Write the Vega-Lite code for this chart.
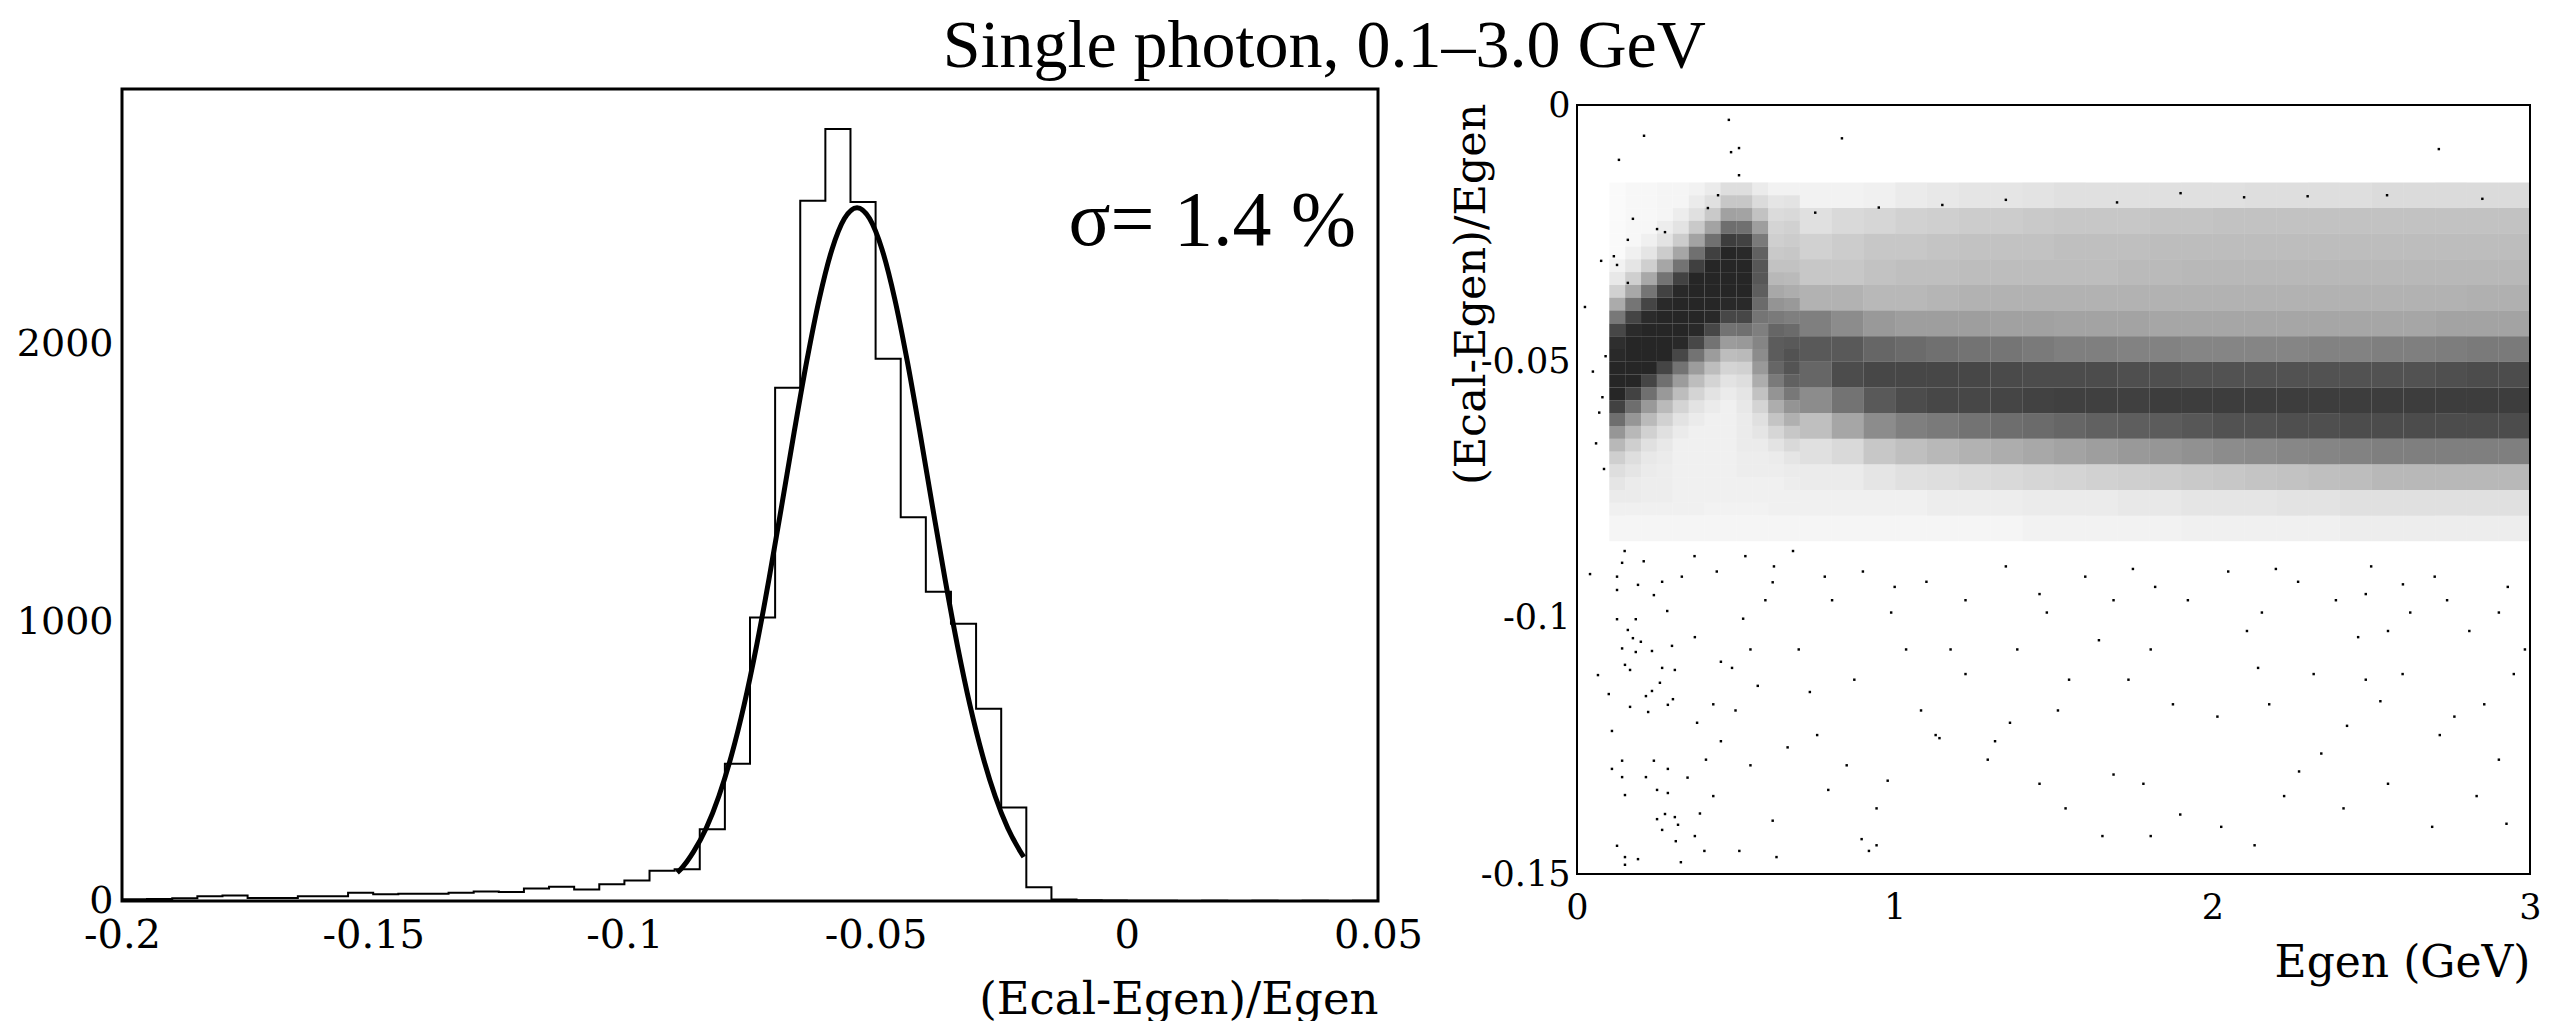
{
"$schema": "https://vega.github.io/schema/vega-lite/v6.json",
"padding": {"left": 14, "top": 13, "right": 5, "bottom": 2},
"background": "white",
"config": {"font": "DejaVu Serif", "axis": {"labelColor": "black", "titleColor": "black", "tickColor": "black", "domain": false, "grid": false, "labelFlush": false, "labelOverlap": false, "labelBound": false, "titleFontWeight": "normal", "tickSize": 0}},
"title": {"text": "Single photon, 0.1–3.0 GeV", "font": "Liberation Serif", "fontSize": 68, "fontWeight": "normal", "color": "black", "anchor": "start", "frame": "bounds", "dx": 928, "baseline": "alphabetic", "offset": -48},
"datasets": {
"hist": [{"x":-0.2,"n":6},{"x":-0.195,"n":7},{"x":-0.19,"n":10},{"x":-0.185,"n":17},{"x":-0.18,"n":20},{"x":-0.175,"n":11},{"x":-0.17,"n":11},{"x":-0.165,"n":17},{"x":-0.16,"n":17},{"x":-0.155,"n":30},{"x":-0.15,"n":24},{"x":-0.145,"n":26},{"x":-0.14,"n":26},{"x":-0.135,"n":30},{"x":-0.13,"n":34},{"x":-0.125,"n":32},{"x":-0.12,"n":45},{"x":-0.115,"n":51},{"x":-0.11,"n":41},{"x":-0.105,"n":60},{"x":-0.1,"n":74},{"x":-0.095,"n":109},{"x":-0.09,"n":114},{"x":-0.085,"n":258},{"x":-0.08,"n":493},{"x":-0.075,"n":1018},{"x":-0.07,"n":1843},{"x":-0.065,"n":2515},{"x":-0.06,"n":2772},{"x":-0.055,"n":2510},{"x":-0.05,"n":1947},{"x":-0.045,"n":1378},{"x":-0.04,"n":1111},{"x":-0.035,"n":996},{"x":-0.03,"n":690},{"x":-0.025,"n":336},{"x":-0.02,"n":49},{"x":-0.015,"n":5},{"x":-0.01,"n":3},{"x":-0.005,"n":2},{"x":0,"n":1},{"x":0.005,"n":1},{"x":0.01,"n":0},{"x":0.015,"n":1},{"x":0.02,"n":0},{"x":0.025,"n":1},{"x":0.03,"n":0},{"x":0.035,"n":1},{"x":0.04,"n":0},{"x":0.045,"n":1},{"x":0.05,"n":1}],
"fit": [{"x":-0.0895,"f":102},{"x":-0.0887,"f":116},{"x":-0.0862,"f":178},{"x":-0.0837,"f":262},{"x":-0.0812,"f":376},{"x":-0.0787,"f":522},{"x":-0.0762,"f":702},{"x":-0.0737,"f":916},{"x":-0.0712,"f":1158},{"x":-0.0687,"f":1419},{"x":-0.0662,"f":1685},{"x":-0.0637,"f":1939},{"x":-0.0612,"f":2163},{"x":-0.0587,"f":2339},{"x":-0.0562,"f":2451},{"x":-0.0537,"f":2490},{"x":-0.0512,"f":2451},{"x":-0.0487,"f":2339},{"x":-0.0462,"f":2163},{"x":-0.0437,"f":1939},{"x":-0.0412,"f":1685},{"x":-0.0387,"f":1419},{"x":-0.0362,"f":1158},{"x":-0.0337,"f":916},{"x":-0.0312,"f":702},{"x":-0.0287,"f":522},{"x":-0.0262,"f":376},{"x":-0.0237,"f":262},{"x":-0.0212,"f":178},{"x":-0.0205,"f":158}],
"fine": [
{"e":0.1,"r":-0.0175,"d":2},{"e":0.1,"r":-0.02,"d":2},{"e":0.1,"r":-0.0225,"d":2},{"e":0.1,"r":-0.025,"d":2},{"e":0.1,"r":-0.0275,"d":2},{"e":0.1,"r":-0.03,"d":2},{"e":0.1,"r":-0.0325,"d":5},{"e":0.1,"r":-0.035,"d":9},{"e":0.1,"r":-0.0375,"d":18},{"e":0.1,"r":-0.04,"d":33},{"e":0.1,"r":-0.0425,"d":53},{"e":0.1,"r":-0.045,"d":72},{"e":0.1,"r":-0.0475,"d":82},{"e":0.1,"r":-0.05,"d":84},{"e":0.1,"r":-0.0525,"d":85},{"e":0.1,"r":-0.055,"d":85},{"e":0.1,"r":-0.0575,"d":85},{"e":0.1,"r":-0.06,"d":74},{"e":0.1,"r":-0.0625,"d":57},{"e":0.1,"r":-0.065,"d":41},{"e":0.1,"r":-0.0675,"d":28},{"e":0.1,"r":-0.07,"d":19},{"e":0.1,"r":-0.0725,"d":13},{"e":0.1,"r":-0.075,"d":10},{"e":0.1,"r":-0.0775,"d":8},{"e":0.1,"r":-0.08,"d":6},
{"e":0.15,"r":-0.0175,"d":3},{"e":0.15,"r":-0.02,"d":3},{"e":0.15,"r":-0.0225,"d":3},{"e":0.15,"r":-0.025,"d":3},{"e":0.15,"r":-0.0275,"d":3},{"e":0.15,"r":-0.03,"d":6},{"e":0.15,"r":-0.0325,"d":10},{"e":0.15,"r":-0.035,"d":19},{"e":0.15,"r":-0.0375,"d":34},{"e":0.15,"r":-0.04,"d":54},{"e":0.15,"r":-0.0425,"d":73},{"e":0.15,"r":-0.045,"d":83},{"e":0.15,"r":-0.0475,"d":85},{"e":0.15,"r":-0.05,"d":85},{"e":0.15,"r":-0.0525,"d":85},{"e":0.15,"r":-0.055,"d":85},{"e":0.15,"r":-0.0575,"d":74},{"e":0.15,"r":-0.06,"d":57},{"e":0.15,"r":-0.0625,"d":41},{"e":0.15,"r":-0.065,"d":28},{"e":0.15,"r":-0.0675,"d":19},{"e":0.15,"r":-0.07,"d":13},{"e":0.15,"r":-0.0725,"d":10},{"e":0.15,"r":-0.075,"d":8},{"e":0.15,"r":-0.0775,"d":8},{"e":0.15,"r":-0.08,"d":6},
{"e":0.2,"r":-0.0175,"d":3},{"e":0.2,"r":-0.02,"d":3},{"e":0.2,"r":-0.0225,"d":3},{"e":0.2,"r":-0.025,"d":3},{"e":0.2,"r":-0.0275,"d":6},{"e":0.2,"r":-0.03,"d":10},{"e":0.2,"r":-0.0325,"d":19},{"e":0.2,"r":-0.035,"d":34},{"e":0.2,"r":-0.0375,"d":54},{"e":0.2,"r":-0.04,"d":73},{"e":0.2,"r":-0.0425,"d":83},{"e":0.2,"r":-0.045,"d":85},{"e":0.2,"r":-0.0475,"d":85},{"e":0.2,"r":-0.05,"d":85},{"e":0.2,"r":-0.0525,"d":85},{"e":0.2,"r":-0.055,"d":73},{"e":0.2,"r":-0.0575,"d":56},{"e":0.2,"r":-0.06,"d":40},{"e":0.2,"r":-0.0625,"d":27},{"e":0.2,"r":-0.065,"d":18},{"e":0.2,"r":-0.0675,"d":12},{"e":0.2,"r":-0.07,"d":9},{"e":0.2,"r":-0.0725,"d":8},{"e":0.2,"r":-0.075,"d":7},{"e":0.2,"r":-0.0775,"d":7},{"e":0.2,"r":-0.08,"d":6},
{"e":0.25,"r":-0.0175,"d":4},{"e":0.25,"r":-0.02,"d":4},{"e":0.25,"r":-0.0225,"d":4},{"e":0.25,"r":-0.025,"d":7},{"e":0.25,"r":-0.0275,"d":11},{"e":0.25,"r":-0.03,"d":20},{"e":0.25,"r":-0.0325,"d":35},{"e":0.25,"r":-0.035,"d":55},{"e":0.25,"r":-0.0375,"d":74},{"e":0.25,"r":-0.04,"d":84},{"e":0.25,"r":-0.0425,"d":85},{"e":0.25,"r":-0.045,"d":85},{"e":0.25,"r":-0.0475,"d":85},{"e":0.25,"r":-0.05,"d":85},{"e":0.25,"r":-0.0525,"d":73},{"e":0.25,"r":-0.055,"d":56},{"e":0.25,"r":-0.0575,"d":40},{"e":0.25,"r":-0.06,"d":27},{"e":0.25,"r":-0.0625,"d":18},{"e":0.25,"r":-0.065,"d":12},{"e":0.25,"r":-0.0675,"d":9},{"e":0.25,"r":-0.07,"d":8},{"e":0.25,"r":-0.0725,"d":7},{"e":0.25,"r":-0.075,"d":7},{"e":0.25,"r":-0.0775,"d":7},{"e":0.25,"r":-0.08,"d":6},
{"e":0.3,"r":-0.0175,"d":4},{"e":0.3,"r":-0.02,"d":4},{"e":0.3,"r":-0.0225,"d":7},{"e":0.3,"r":-0.025,"d":11},{"e":0.3,"r":-0.0275,"d":20},{"e":0.3,"r":-0.03,"d":35},{"e":0.3,"r":-0.0325,"d":55},{"e":0.3,"r":-0.035,"d":74},{"e":0.3,"r":-0.0375,"d":84},{"e":0.3,"r":-0.04,"d":85},{"e":0.3,"r":-0.0425,"d":85},{"e":0.3,"r":-0.045,"d":85},{"e":0.3,"r":-0.0475,"d":84},{"e":0.3,"r":-0.05,"d":72},{"e":0.3,"r":-0.0525,"d":55},{"e":0.3,"r":-0.055,"d":39},{"e":0.3,"r":-0.0575,"d":26},{"e":0.3,"r":-0.06,"d":17},{"e":0.3,"r":-0.0625,"d":11},{"e":0.3,"r":-0.065,"d":8},{"e":0.3,"r":-0.0675,"d":6},{"e":0.3,"r":-0.07,"d":6},{"e":0.3,"r":-0.0725,"d":6},{"e":0.3,"r":-0.075,"d":6},{"e":0.3,"r":-0.0775,"d":6},{"e":0.3,"r":-0.08,"d":6},
{"e":0.35,"r":-0.0175,"d":5},{"e":0.35,"r":-0.02,"d":8},{"e":0.35,"r":-0.0225,"d":12},{"e":0.35,"r":-0.025,"d":21},{"e":0.35,"r":-0.0275,"d":36},{"e":0.35,"r":-0.03,"d":56},{"e":0.35,"r":-0.0325,"d":75},{"e":0.35,"r":-0.035,"d":85},{"e":0.35,"r":-0.0375,"d":85},{"e":0.35,"r":-0.04,"d":85},{"e":0.35,"r":-0.0425,"d":85},{"e":0.35,"r":-0.045,"d":84},{"e":0.35,"r":-0.0475,"d":72},{"e":0.35,"r":-0.05,"d":55},{"e":0.35,"r":-0.0525,"d":39},{"e":0.35,"r":-0.055,"d":26},{"e":0.35,"r":-0.0575,"d":17},{"e":0.35,"r":-0.06,"d":11},{"e":0.35,"r":-0.0625,"d":8},{"e":0.35,"r":-0.065,"d":6},{"e":0.35,"r":-0.0675,"d":6},{"e":0.35,"r":-0.07,"d":6},{"e":0.35,"r":-0.0725,"d":6},{"e":0.35,"r":-0.075,"d":6},{"e":0.35,"r":-0.0775,"d":6},{"e":0.35,"r":-0.08,"d":6},
{"e":0.4,"r":-0.0175,"d":8},{"e":0.4,"r":-0.02,"d":12},{"e":0.4,"r":-0.0225,"d":21},{"e":0.4,"r":-0.025,"d":36},{"e":0.4,"r":-0.0275,"d":56},{"e":0.4,"r":-0.03,"d":75},{"e":0.4,"r":-0.0325,"d":85},{"e":0.4,"r":-0.035,"d":85},{"e":0.4,"r":-0.0375,"d":85},{"e":0.4,"r":-0.04,"d":85},{"e":0.4,"r":-0.0425,"d":84},{"e":0.4,"r":-0.045,"d":72},{"e":0.4,"r":-0.0475,"d":55},{"e":0.4,"r":-0.05,"d":39},{"e":0.4,"r":-0.0525,"d":26},{"e":0.4,"r":-0.055,"d":17},{"e":0.4,"r":-0.0575,"d":11},{"e":0.4,"r":-0.06,"d":8},{"e":0.4,"r":-0.0625,"d":6},{"e":0.4,"r":-0.065,"d":6},{"e":0.4,"r":-0.0675,"d":6},{"e":0.4,"r":-0.07,"d":6},{"e":0.4,"r":-0.0725,"d":6},{"e":0.4,"r":-0.075,"d":6},{"e":0.4,"r":-0.0775,"d":6},{"e":0.4,"r":-0.08,"d":5},
{"e":0.45,"r":-0.0175,"d":13},{"e":0.45,"r":-0.02,"d":22},{"e":0.45,"r":-0.0225,"d":37},{"e":0.45,"r":-0.025,"d":57},{"e":0.45,"r":-0.0275,"d":76},{"e":0.45,"r":-0.03,"d":85},{"e":0.45,"r":-0.0325,"d":85},{"e":0.45,"r":-0.035,"d":85},{"e":0.45,"r":-0.0375,"d":85},{"e":0.45,"r":-0.04,"d":84},{"e":0.45,"r":-0.0425,"d":72},{"e":0.45,"r":-0.045,"d":55},{"e":0.45,"r":-0.0475,"d":39},{"e":0.45,"r":-0.05,"d":26},{"e":0.45,"r":-0.0525,"d":17},{"e":0.45,"r":-0.055,"d":11},{"e":0.45,"r":-0.0575,"d":8},{"e":0.45,"r":-0.06,"d":6},{"e":0.45,"r":-0.0625,"d":6},{"e":0.45,"r":-0.065,"d":6},{"e":0.45,"r":-0.0675,"d":6},{"e":0.45,"r":-0.07,"d":6},{"e":0.45,"r":-0.0725,"d":6},{"e":0.45,"r":-0.075,"d":6},{"e":0.45,"r":-0.0775,"d":6},{"e":0.45,"r":-0.08,"d":5},
{"e":0.5,"r":-0.0175,"d":13},{"e":0.5,"r":-0.02,"d":22},{"e":0.5,"r":-0.0225,"d":36},{"e":0.5,"r":-0.025,"d":56},{"e":0.5,"r":-0.0275,"d":74},{"e":0.5,"r":-0.03,"d":84},{"e":0.5,"r":-0.0325,"d":85},{"e":0.5,"r":-0.035,"d":85},{"e":0.5,"r":-0.0375,"d":85},{"e":0.5,"r":-0.04,"d":84},{"e":0.5,"r":-0.0425,"d":72},{"e":0.5,"r":-0.045,"d":56},{"e":0.5,"r":-0.0475,"d":40},{"e":0.5,"r":-0.05,"d":27},{"e":0.5,"r":-0.0525,"d":18},{"e":0.5,"r":-0.055,"d":13},{"e":0.5,"r":-0.0575,"d":10},{"e":0.5,"r":-0.06,"d":9},{"e":0.5,"r":-0.0625,"d":8},{"e":0.5,"r":-0.065,"d":8},{"e":0.5,"r":-0.0675,"d":8},{"e":0.5,"r":-0.07,"d":7},{"e":0.5,"r":-0.0725,"d":7},{"e":0.5,"r":-0.075,"d":6},{"e":0.5,"r":-0.0775,"d":6},{"e":0.5,"r":-0.08,"d":5},
{"e":0.55,"r":-0.0175,"d":8},{"e":0.55,"r":-0.02,"d":14},{"e":0.55,"r":-0.0225,"d":24},{"e":0.55,"r":-0.025,"d":38},{"e":0.55,"r":-0.0275,"d":52},{"e":0.55,"r":-0.03,"d":62},{"e":0.55,"r":-0.0325,"d":66},{"e":0.55,"r":-0.035,"d":66},{"e":0.55,"r":-0.0375,"d":63},{"e":0.55,"r":-0.04,"d":58},{"e":0.55,"r":-0.0425,"d":54},{"e":0.55,"r":-0.045,"d":50},{"e":0.55,"r":-0.0475,"d":48},{"e":0.55,"r":-0.05,"d":45},{"e":0.55,"r":-0.0525,"d":40},{"e":0.55,"r":-0.055,"d":32},{"e":0.55,"r":-0.0575,"d":24},{"e":0.55,"r":-0.06,"d":17},{"e":0.55,"r":-0.0625,"d":12},{"e":0.55,"r":-0.065,"d":10},{"e":0.55,"r":-0.0675,"d":8},{"e":0.55,"r":-0.07,"d":7},{"e":0.55,"r":-0.0725,"d":7},{"e":0.55,"r":-0.075,"d":6},{"e":0.55,"r":-0.0775,"d":6},{"e":0.55,"r":-0.08,"d":5},
{"e":0.6,"r":-0.0175,"d":5},{"e":0.6,"r":-0.02,"d":10},{"e":0.6,"r":-0.0225,"d":14},{"e":0.6,"r":-0.025,"d":17},{"e":0.6,"r":-0.0275,"d":19},{"e":0.6,"r":-0.03,"d":21},{"e":0.6,"r":-0.0325,"d":24},{"e":0.6,"r":-0.035,"d":28},{"e":0.6,"r":-0.0375,"d":34},{"e":0.6,"r":-0.04,"d":42},{"e":0.6,"r":-0.0425,"d":52},{"e":0.6,"r":-0.045,"d":60},{"e":0.6,"r":-0.0475,"d":64},{"e":0.6,"r":-0.05,"d":64},{"e":0.6,"r":-0.0525,"d":60},{"e":0.6,"r":-0.055,"d":52},{"e":0.6,"r":-0.0575,"d":42},{"e":0.6,"r":-0.06,"d":32},{"e":0.6,"r":-0.0625,"d":23},{"e":0.6,"r":-0.065,"d":16},{"e":0.6,"r":-0.0675,"d":11},{"e":0.6,"r":-0.07,"d":8},{"e":0.6,"r":-0.0725,"d":7},{"e":0.6,"r":-0.075,"d":6},{"e":0.6,"r":-0.0775,"d":6},{"e":0.6,"r":-0.08,"d":6},
{"e":0.65,"r":-0.0175,"d":5},{"e":0.65,"r":-0.02,"d":11},{"e":0.65,"r":-0.0225,"d":15},{"e":0.65,"r":-0.025,"d":18},{"e":0.65,"r":-0.0275,"d":20},{"e":0.65,"r":-0.03,"d":22},{"e":0.65,"r":-0.0325,"d":24},{"e":0.65,"r":-0.035,"d":27},{"e":0.65,"r":-0.0375,"d":32},{"e":0.65,"r":-0.04,"d":40},{"e":0.65,"r":-0.0425,"d":50},{"e":0.65,"r":-0.045,"d":58},{"e":0.65,"r":-0.0475,"d":65},{"e":0.65,"r":-0.05,"d":68},{"e":0.65,"r":-0.0525,"d":67},{"e":0.65,"r":-0.055,"d":62},{"e":0.65,"r":-0.0575,"d":53},{"e":0.65,"r":-0.06,"d":42},{"e":0.65,"r":-0.0625,"d":31},{"e":0.65,"r":-0.065,"d":22},{"e":0.65,"r":-0.0675,"d":15},{"e":0.65,"r":-0.07,"d":10},{"e":0.65,"r":-0.0725,"d":8},{"e":0.65,"r":-0.075,"d":7},{"e":0.65,"r":-0.0775,"d":6},{"e":0.65,"r":-0.08,"d":6}
],
"cells": [
{"e":0.1,"r":-0.085,"d":4},{"e":0.2,"r":-0.085,"d":4},{"e":0.3,"r":-0.085,"d":4},{"e":0.4,"r":-0.085,"d":4},{"e":0.5,"r":-0.085,"d":4},{"e":0.6,"r":-0.085,"d":4},
{"e":0.7,"r":-0.02,"d":5},{"e":0.7,"r":-0.025,"d":12},{"e":0.7,"r":-0.03,"d":18},{"e":0.7,"r":-0.035,"d":22},{"e":0.7,"r":-0.04,"d":30},{"e":0.7,"r":-0.045,"d":50},{"e":0.7,"r":-0.05,"d":65},{"e":0.7,"r":-0.055,"d":60},{"e":0.7,"r":-0.06,"d":45},{"e":0.7,"r":-0.065,"d":25},{"e":0.7,"r":-0.07,"d":12},{"e":0.7,"r":-0.075,"d":8},{"e":0.7,"r":-0.08,"d":6},{"e":0.7,"r":-0.085,"d":4},
{"e":0.8,"r":-0.02,"d":5},{"e":0.8,"r":-0.025,"d":15},{"e":0.8,"r":-0.03,"d":20},{"e":0.8,"r":-0.035,"d":22},{"e":0.8,"r":-0.04,"d":30},{"e":0.8,"r":-0.045,"d":45},{"e":0.8,"r":-0.05,"d":65},{"e":0.8,"r":-0.055,"d":70},{"e":0.8,"r":-0.06,"d":55},{"e":0.8,"r":-0.065,"d":35},{"e":0.8,"r":-0.07,"d":15},{"e":0.8,"r":-0.075,"d":8},{"e":0.8,"r":-0.08,"d":6},{"e":0.8,"r":-0.085,"d":4},
{"e":0.9,"r":-0.02,"d":6},{"e":0.9,"r":-0.025,"d":16},{"e":0.9,"r":-0.03,"d":22},{"e":0.9,"r":-0.035,"d":24},{"e":0.9,"r":-0.04,"d":28},{"e":0.9,"r":-0.045,"d":40},{"e":0.9,"r":-0.05,"d":60},{"e":0.9,"r":-0.055,"d":72},{"e":0.9,"r":-0.06,"d":65},{"e":0.9,"r":-0.065,"d":45},{"e":0.9,"r":-0.07,"d":22},{"e":0.9,"r":-0.075,"d":10},{"e":0.9,"r":-0.08,"d":6},{"e":0.9,"r":-0.085,"d":4},
{"e":1.0,"r":-0.02,"d":8},{"e":1.0,"r":-0.025,"d":18},{"e":1.0,"r":-0.03,"d":22},{"e":1.0,"r":-0.035,"d":25},{"e":1.0,"r":-0.04,"d":28},{"e":1.0,"r":-0.045,"d":38},{"e":1.0,"r":-0.05,"d":58},{"e":1.0,"r":-0.055,"d":72},{"e":1.0,"r":-0.06,"d":70},{"e":1.0,"r":-0.065,"d":50},{"e":1.0,"r":-0.07,"d":25},{"e":1.0,"r":-0.075,"d":12},{"e":1.0,"r":-0.08,"d":6},{"e":1.0,"r":-0.085,"d":4},
{"e":1.1,"r":-0.02,"d":9},{"e":1.1,"r":-0.025,"d":19},{"e":1.1,"r":-0.03,"d":23},{"e":1.1,"r":-0.035,"d":25},{"e":1.1,"r":-0.04,"d":29},{"e":1.1,"r":-0.045,"d":38},{"e":1.1,"r":-0.05,"d":56},{"e":1.1,"r":-0.055,"d":72},{"e":1.1,"r":-0.06,"d":72},{"e":1.1,"r":-0.065,"d":52},{"e":1.1,"r":-0.07,"d":28},{"e":1.1,"r":-0.075,"d":13},{"e":1.1,"r":-0.08,"d":7},{"e":1.1,"r":-0.085,"d":4},
{"e":1.2,"r":-0.02,"d":10},{"e":1.2,"r":-0.025,"d":20},{"e":1.2,"r":-0.03,"d":24},{"e":1.2,"r":-0.035,"d":26},{"e":1.2,"r":-0.04,"d":30},{"e":1.2,"r":-0.045,"d":38},{"e":1.2,"r":-0.05,"d":55},{"e":1.2,"r":-0.055,"d":72},{"e":1.2,"r":-0.06,"d":72},{"e":1.2,"r":-0.065,"d":55},{"e":1.2,"r":-0.07,"d":30},{"e":1.2,"r":-0.075,"d":14},{"e":1.2,"r":-0.08,"d":7},{"e":1.2,"r":-0.085,"d":4},
{"e":1.3,"r":-0.02,"d":10},{"e":1.3,"r":-0.025,"d":20},{"e":1.3,"r":-0.03,"d":24},{"e":1.3,"r":-0.035,"d":26},{"e":1.3,"r":-0.04,"d":30},{"e":1.3,"r":-0.045,"d":37},{"e":1.3,"r":-0.05,"d":54},{"e":1.3,"r":-0.055,"d":71},{"e":1.3,"r":-0.06,"d":73},{"e":1.3,"r":-0.065,"d":57},{"e":1.3,"r":-0.07,"d":32},{"e":1.3,"r":-0.075,"d":15},{"e":1.3,"r":-0.08,"d":7},{"e":1.3,"r":-0.085,"d":4},
{"e":1.4,"r":-0.02,"d":11},{"e":1.4,"r":-0.025,"d":21},{"e":1.4,"r":-0.03,"d":24},{"e":1.4,"r":-0.035,"d":26},{"e":1.4,"r":-0.04,"d":30},{"e":1.4,"r":-0.045,"d":37},{"e":1.4,"r":-0.05,"d":52},{"e":1.4,"r":-0.055,"d":70},{"e":1.4,"r":-0.06,"d":74},{"e":1.4,"r":-0.065,"d":58},{"e":1.4,"r":-0.07,"d":34},{"e":1.4,"r":-0.075,"d":16},{"e":1.4,"r":-0.08,"d":8},{"e":1.4,"r":-0.085,"d":5},
{"e":1.5,"r":-0.02,"d":12},{"e":1.5,"r":-0.025,"d":22},{"e":1.5,"r":-0.03,"d":25},{"e":1.5,"r":-0.035,"d":26},{"e":1.5,"r":-0.04,"d":30},{"e":1.5,"r":-0.045,"d":36},{"e":1.5,"r":-0.05,"d":50},{"e":1.5,"r":-0.055,"d":70},{"e":1.5,"r":-0.06,"d":75},{"e":1.5,"r":-0.065,"d":60},{"e":1.5,"r":-0.07,"d":36},{"e":1.5,"r":-0.075,"d":17},{"e":1.5,"r":-0.08,"d":8},{"e":1.5,"r":-0.085,"d":5},
{"e":1.6,"r":-0.02,"d":12},{"e":1.6,"r":-0.025,"d":22},{"e":1.6,"r":-0.03,"d":25},{"e":1.6,"r":-0.035,"d":26},{"e":1.6,"r":-0.04,"d":30},{"e":1.6,"r":-0.045,"d":36},{"e":1.6,"r":-0.05,"d":50},{"e":1.6,"r":-0.055,"d":70},{"e":1.6,"r":-0.06,"d":75},{"e":1.6,"r":-0.065,"d":62},{"e":1.6,"r":-0.07,"d":38},{"e":1.6,"r":-0.075,"d":18},{"e":1.6,"r":-0.08,"d":8},{"e":1.6,"r":-0.085,"d":5},
{"e":1.7,"r":-0.02,"d":12},{"e":1.7,"r":-0.025,"d":22},{"e":1.7,"r":-0.03,"d":25},{"e":1.7,"r":-0.035,"d":27},{"e":1.7,"r":-0.04,"d":30},{"e":1.7,"r":-0.045,"d":36},{"e":1.7,"r":-0.05,"d":49},{"e":1.7,"r":-0.055,"d":69},{"e":1.7,"r":-0.06,"d":75},{"e":1.7,"r":-0.065,"d":63},{"e":1.7,"r":-0.07,"d":40},{"e":1.7,"r":-0.075,"d":19},{"e":1.7,"r":-0.08,"d":9},{"e":1.7,"r":-0.085,"d":5},
{"e":1.8,"r":-0.02,"d":12},{"e":1.8,"r":-0.025,"d":23},{"e":1.8,"r":-0.03,"d":26},{"e":1.8,"r":-0.035,"d":27},{"e":1.8,"r":-0.04,"d":30},{"e":1.8,"r":-0.045,"d":35},{"e":1.8,"r":-0.05,"d":49},{"e":1.8,"r":-0.055,"d":69},{"e":1.8,"r":-0.06,"d":76},{"e":1.8,"r":-0.065,"d":64},{"e":1.8,"r":-0.07,"d":41},{"e":1.8,"r":-0.075,"d":20},{"e":1.8,"r":-0.08,"d":9},{"e":1.8,"r":-0.085,"d":5},
{"e":1.9,"r":-0.02,"d":12},{"e":1.9,"r":-0.025,"d":23},{"e":1.9,"r":-0.03,"d":26},{"e":1.9,"r":-0.035,"d":28},{"e":1.9,"r":-0.04,"d":30},{"e":1.9,"r":-0.045,"d":35},{"e":1.9,"r":-0.05,"d":48},{"e":1.9,"r":-0.055,"d":68},{"e":1.9,"r":-0.06,"d":76},{"e":1.9,"r":-0.065,"d":66},{"e":1.9,"r":-0.07,"d":43},{"e":1.9,"r":-0.075,"d":21},{"e":1.9,"r":-0.08,"d":10},{"e":1.9,"r":-0.085,"d":6},
{"e":2.0,"r":-0.02,"d":12},{"e":2.0,"r":-0.025,"d":24},{"e":2.0,"r":-0.03,"d":26},{"e":2.0,"r":-0.035,"d":28},{"e":2.0,"r":-0.04,"d":30},{"e":2.0,"r":-0.045,"d":35},{"e":2.0,"r":-0.05,"d":48},{"e":2.0,"r":-0.055,"d":68},{"e":2.0,"r":-0.06,"d":76},{"e":2.0,"r":-0.065,"d":68},{"e":2.0,"r":-0.07,"d":45},{"e":2.0,"r":-0.075,"d":22},{"e":2.0,"r":-0.08,"d":10},{"e":2.0,"r":-0.085,"d":6},
{"e":2.1,"r":-0.02,"d":13},{"e":2.1,"r":-0.025,"d":24},{"e":2.1,"r":-0.03,"d":26},{"e":2.1,"r":-0.035,"d":28},{"e":2.1,"r":-0.04,"d":30},{"e":2.1,"r":-0.045,"d":35},{"e":2.1,"r":-0.05,"d":48},{"e":2.1,"r":-0.055,"d":68},{"e":2.1,"r":-0.06,"d":76},{"e":2.1,"r":-0.065,"d":68},{"e":2.1,"r":-0.07,"d":46},{"e":2.1,"r":-0.075,"d":23},{"e":2.1,"r":-0.08,"d":10},{"e":2.1,"r":-0.085,"d":6},
{"e":2.2,"r":-0.02,"d":13},{"e":2.2,"r":-0.025,"d":24},{"e":2.2,"r":-0.03,"d":26},{"e":2.2,"r":-0.035,"d":28},{"e":2.2,"r":-0.04,"d":30},{"e":2.2,"r":-0.045,"d":35},{"e":2.2,"r":-0.05,"d":48},{"e":2.2,"r":-0.055,"d":68},{"e":2.2,"r":-0.06,"d":76},{"e":2.2,"r":-0.065,"d":69},{"e":2.2,"r":-0.07,"d":47},{"e":2.2,"r":-0.075,"d":24},{"e":2.2,"r":-0.08,"d":11},{"e":2.2,"r":-0.085,"d":6},
{"e":2.3,"r":-0.02,"d":13},{"e":2.3,"r":-0.025,"d":24},{"e":2.3,"r":-0.03,"d":26},{"e":2.3,"r":-0.035,"d":28},{"e":2.3,"r":-0.04,"d":30},{"e":2.3,"r":-0.045,"d":35},{"e":2.3,"r":-0.05,"d":49},{"e":2.3,"r":-0.055,"d":68},{"e":2.3,"r":-0.06,"d":76},{"e":2.3,"r":-0.065,"d":69},{"e":2.3,"r":-0.07,"d":48},{"e":2.3,"r":-0.075,"d":25},{"e":2.3,"r":-0.08,"d":11},{"e":2.3,"r":-0.085,"d":6},
{"e":2.4,"r":-0.02,"d":13},{"e":2.4,"r":-0.025,"d":24},{"e":2.4,"r":-0.03,"d":26},{"e":2.4,"r":-0.035,"d":28},{"e":2.4,"r":-0.04,"d":30},{"e":2.4,"r":-0.045,"d":35},{"e":2.4,"r":-0.05,"d":49},{"e":2.4,"r":-0.055,"d":68},{"e":2.4,"r":-0.06,"d":76},{"e":2.4,"r":-0.065,"d":70},{"e":2.4,"r":-0.07,"d":49},{"e":2.4,"r":-0.075,"d":26},{"e":2.4,"r":-0.08,"d":12},{"e":2.4,"r":-0.085,"d":7},
{"e":2.5,"r":-0.02,"d":14},{"e":2.5,"r":-0.025,"d":24},{"e":2.5,"r":-0.03,"d":26},{"e":2.5,"r":-0.035,"d":28},{"e":2.5,"r":-0.04,"d":30},{"e":2.5,"r":-0.045,"d":35},{"e":2.5,"r":-0.05,"d":50},{"e":2.5,"r":-0.055,"d":68},{"e":2.5,"r":-0.06,"d":76},{"e":2.5,"r":-0.065,"d":70},{"e":2.5,"r":-0.07,"d":50},{"e":2.5,"r":-0.075,"d":28},{"e":2.5,"r":-0.08,"d":12},{"e":2.5,"r":-0.085,"d":7},
{"e":2.6,"r":-0.02,"d":14},{"e":2.6,"r":-0.025,"d":24},{"e":2.6,"r":-0.03,"d":26},{"e":2.6,"r":-0.035,"d":28},{"e":2.6,"r":-0.04,"d":30},{"e":2.6,"r":-0.045,"d":35},{"e":2.6,"r":-0.05,"d":50},{"e":2.6,"r":-0.055,"d":68},{"e":2.6,"r":-0.06,"d":76},{"e":2.6,"r":-0.065,"d":70},{"e":2.6,"r":-0.07,"d":50},{"e":2.6,"r":-0.075,"d":28},{"e":2.6,"r":-0.08,"d":12},{"e":2.6,"r":-0.085,"d":7},
{"e":2.7,"r":-0.02,"d":14},{"e":2.7,"r":-0.025,"d":24},{"e":2.7,"r":-0.03,"d":26},{"e":2.7,"r":-0.035,"d":28},{"e":2.7,"r":-0.04,"d":30},{"e":2.7,"r":-0.045,"d":36},{"e":2.7,"r":-0.05,"d":51},{"e":2.7,"r":-0.055,"d":69},{"e":2.7,"r":-0.06,"d":76},{"e":2.7,"r":-0.065,"d":70},{"e":2.7,"r":-0.07,"d":50},{"e":2.7,"r":-0.075,"d":28},{"e":2.7,"r":-0.08,"d":12},{"e":2.7,"r":-0.085,"d":7},
{"e":2.8,"r":-0.02,"d":14},{"e":2.8,"r":-0.025,"d":24},{"e":2.8,"r":-0.03,"d":26},{"e":2.8,"r":-0.035,"d":28},{"e":2.8,"r":-0.04,"d":31},{"e":2.8,"r":-0.045,"d":36},{"e":2.8,"r":-0.05,"d":52},{"e":2.8,"r":-0.055,"d":70},{"e":2.8,"r":-0.06,"d":76},{"e":2.8,"r":-0.065,"d":70},{"e":2.8,"r":-0.07,"d":50},{"e":2.8,"r":-0.075,"d":28},{"e":2.8,"r":-0.08,"d":12},{"e":2.8,"r":-0.085,"d":7},
{"e":2.9,"r":-0.02,"d":14},{"e":2.9,"r":-0.025,"d":24},{"e":2.9,"r":-0.03,"d":26},{"e":2.9,"r":-0.035,"d":28},{"e":2.9,"r":-0.04,"d":31},{"e":2.9,"r":-0.045,"d":36},{"e":2.9,"r":-0.05,"d":52},{"e":2.9,"r":-0.055,"d":70},{"e":2.9,"r":-0.06,"d":76},{"e":2.9,"r":-0.065,"d":70},{"e":2.9,"r":-0.07,"d":50},{"e":2.9,"r":-0.075,"d":28},{"e":2.9,"r":-0.08,"d":12},{"e":2.9,"r":-0.085,"d":7}
],
"pts": [
{"e":0.142,"r":-0.0893},{"e":0.041,"r":-0.0915},{"e":0.126,"r":-0.092},{"e":0.126,"r":-0.0946},{"e":0.192,"r":-0.0936},{"e":0.242,"r":-0.0956},{"e":0.268,"r":-0.093},{"e":0.284,"r":-0.0987},{"e":0.126,"r":-0.1003},{"e":0.185,"r":-0.1003},{"e":0.16,"r":-0.1024},{"e":0.176,"r":-0.104},{"e":0.201,"r":-0.1047},{"e":0.142,"r":-0.106},{"e":0.185,"r":-0.1067},{"e":0.236,"r":-0.1065},{"e":0.299,"r":-0.1055},{"e":0.151,"r":-0.1092},{"e":0.167,"r":-0.1102},{"e":0.066,"r":-0.1112},{"e":0.268,"r":-0.1098},{"e":0.308,"r":-0.1102},{"e":0.261,"r":-0.1127},{"e":0.1,"r":-0.1149},{"e":0.217,"r":-0.1153},{"e":0.236,"r":-0.1143},{"e":0.167,"r":-0.1174},{"e":0.224,"r":-0.1184},{"e":0.286,"r":-0.117},{"e":0.302,"r":-0.1159},{"e":0.11,"r":-0.1221},{"e":0.11,"r":-0.1295},{"e":0.142,"r":-0.1279},{"e":0.142,"r":-0.1311},{"e":0.217,"r":-0.1311},{"e":0.242,"r":-0.1279},{"e":0.286,"r":-0.1295},{"e":0.151,"r":-0.1346},{"e":0.252,"r":-0.1336},{"e":0.286,"r":-0.1342},{"e":0.252,"r":-0.1393},{"e":0.268,"r":-0.1414},{"e":0.277,"r":-0.1383},{"e":0.308,"r":-0.1389},{"e":0.318,"r":-0.1404},{"e":0.311,"r":-0.1436},{"e":0.126,"r":-0.1445},{"e":0.151,"r":-0.1467},{"e":0.151,"r":-0.1482},{"e":0.192,"r":-0.1471},{"e":0.327,"r":-0.1477},
{"e":0.387,"r":-0.1382},{"e":0.401,"r":-0.1455},{"e":0.371,"r":-0.1426},{"e":0.429,"r":-0.1348},{"e":0.348,"r":-0.1312},{"e":0.406,"r":-0.1277},{"e":0.453,"r":-0.1241},{"e":0.378,"r":-0.1205},{"e":0.429,"r":-0.1169},{"e":0.499,"r":-0.1181},{"e":0.488,"r":-0.1098},{"e":0.546,"r":-0.1062},{"e":0.523,"r":-0.1002},{"e":0.593,"r":-0.0966},{"e":0.616,"r":-0.0931},{"e":0.733,"r":-0.1145},{"e":0.756,"r":-0.1229},{"e":0.791,"r":-0.1336},{"e":0.849,"r":-0.1288},{"e":0.896,"r":-0.1432},{"e":0.943,"r":-0.1372},{"e":0.978,"r":-0.1318},{"e":0.919,"r":-0.1455},{"e":1.129,"r":-0.1229},{"e":1.141,"r":-0.1235},{"e":1.176,"r":-0.1062},{"e":1.293,"r":-0.1277},{"e":1.316,"r":-0.1241},{"e":1.386,"r":-0.1062},{"e":1.456,"r":-0.1324},{"e":1.479,"r":-0.099},{"e":1.514,"r":-0.1181},{"e":1.538,"r":-0.1372},{"e":1.643,"r":-0.1044},{"e":1.654,"r":-0.1426},{"e":1.689,"r":-0.1306},{"e":1.736,"r":-0.1121},{"e":1.783,"r":-0.1324},{"e":1.806,"r":-0.1426},{"e":1.876,"r":-0.1169},{"e":1.899,"r":-0.1384},{"e":2.016,"r":-0.1193},{"e":2.028,"r":-0.1408},{"e":2.109,"r":-0.1026},{"e":2.144,"r":-0.1098},{"e":2.179,"r":-0.1169},{"e":2.226,"r":-0.1348},{"e":2.273,"r":-0.13},{"e":2.343,"r":-0.1265},{"e":2.413,"r":-0.1372},{"e":2.424,"r":-0.1211},{"e":2.459,"r":-0.1038},{"e":2.483,"r":-0.1121},{"e":2.529,"r":-0.1163},{"e":2.553,"r":-0.1324},{"e":2.599,"r":-0.111},{"e":2.692,"r":-0.1408},{"e":2.716,"r":-0.1229},{"e":2.762,"r":-0.1193},{"e":2.809,"r":-0.1026},{"e":2.832,"r":-0.1348},{"e":2.902,"r":-0.1277},{"e":2.926,"r":-0.1402},{"e":2.949,"r":-0.111},{"e":2.984,"r":-0.1062},{"e":2.739,"r":-0.0966},{"e":2.483,"r":-0.0954},{"e":2.623,"r":-0.099},{"e":2.389,"r":-0.0966},{"e":2.156,"r":-0.099},{"e":1.923,"r":-0.0966},{"e":1.689,"r":-0.0966},{"e":1.456,"r":-0.0954},{"e":1.223,"r":-0.0966},{"e":0.989,"r":-0.099},{"e":0.803,"r":-0.0966},{"e":2.902,"r":-0.099},
{"e":0.371,"r":-0.1038},{"e":0.453,"r":-0.1086},{"e":0.546,"r":-0.1288},{"e":0.616,"r":-0.1396},{"e":0.663,"r":-0.1253},{"e":0.569,"r":-0.1133},{"e":0.511,"r":-0.1455},{"e":0.698,"r":-0.1062},{"e":0.628,"r":-0.1467},{"e":0.943,"r":-0.1444},{"e":1.083,"r":-0.1181},{"e":1.223,"r":-0.111},{"e":1.363,"r":-0.1205},{"e":2.133,"r":-0.1444},{"e":2.319,"r":-0.111},{"e":2.553,"r":-0.1026},{"e":2.856,"r":-0.1169},{"e":1.806,"r":-0.1062},{"e":1.549,"r":-0.1121},{"e":1.036,"r":-0.1062},{"e":0.873,"r":-0.1121},
{"e":0.211,"r":-0.006},{"e":0.132,"r":-0.0107},{"e":0.478,"r":-0.0029},{"e":0.485,"r":-0.0092},{"e":0.444,"r":-0.0176},{"e":0.412,"r":-0.0201},{"e":0.176,"r":-0.0222},{"e":0.252,"r":-0.0242},{"e":0.277,"r":-0.0248},{"e":0.16,"r":-0.0263},{"e":0.076,"r":-0.0304},{"e":0.116,"r":-0.0295},{"e":0.126,"r":-0.0312},{"e":0.16,"r":-0.0347},{"e":0.025,"r":-0.0394},{"e":2.713,"r":-0.0086},{"e":0.834,"r":-0.0065},{"e":0.51,"r":-0.0084},{"e":0.51,"r":-0.0137},
{"e":0.05,"r":-0.052},{"e":0.07,"r":-0.06},{"e":0.08,"r":-0.057},{"e":0.06,"r":-0.066},{"e":0.09,"r":-0.049},{"e":0.085,"r":-0.071},
{"e":1.9,"r":-0.0172},{"e":1.35,"r":-0.0185},{"e":2.3,"r":-0.0178},{"e":2.85,"r":-0.0183},{"e":1.15,"r":-0.0195},{"e":0.95,"r":-0.02},{"e":0.75,"r":-0.021},{"e":2.55,"r":-0.0176},{"e":1.7,"r":-0.019},{"e":2.1,"r":-0.018},
{"e":0.15,"r":-0.087},{"e":0.21,"r":-0.089},{"e":0.37,"r":-0.088},{"e":0.44,"r":-0.091},{"e":0.62,"r":-0.09},{"e":0.68,"r":-0.087},{"e":0.33,"r":-0.092},{"e":0.53,"r":-0.088},
{"e":0.9,"r":-0.091},{"e":1.1,"r":-0.093},{"e":1.35,"r":-0.09},{"e":1.6,"r":-0.092},{"e":1.82,"r":-0.094},{"e":2.05,"r":-0.091},{"e":2.27,"r":-0.093},{"e":2.5,"r":-0.09},{"e":2.7,"r":-0.092},{"e":2.93,"r":-0.094},{"e":1.0,"r":-0.094},{"e":1.75,"r":-0.0905},{"e":2.2,"r":-0.0905},{"e":2.6,"r":-0.0935},{"e":0.78,"r":-0.092}
]
},
"hconcat": [
{
"width": 1256, "height": 812,
"view": {"stroke": "black", "strokeWidth": 3},
"resolve": {"axis": {"x": "independent", "y": "independent"}},
"layer": [
{"data": {"name": "hist"},
 "mark": {"type": "line", "interpolate": "step-after", "color": "black", "strokeWidth": 2},
 "encoding": {
  "x": {"field": "x", "type": "quantitative", "scale": {"domain": [-0.2, 0.05], "nice": false, "zero": false},
   "axis": {"orient": "bottom", "values": [-0.2,-0.19,-0.18,-0.17,-0.16,-0.15,-0.14,-0.13,-0.12,-0.11,-0.1,-0.09,-0.08,-0.07,-0.06,-0.05,-0.04,-0.03,-0.02,-0.01,0,0.01,0.02,0.03,0.04,0.05],
    "labelExpr": "abs(datum.value*20-round(datum.value*20))<0.001 ? replace(format(datum.value,'~g'),'−','-') : ''",
    "encode": {"ticks": {"update": {"y2": {"signal": "abs(datum.value*20-round(datum.value*20))<0.001 ? -26 : -13"}, "strokeWidth": {"value": 2}}}},
    "labelFont": "DejaVu Serif", "labelFontSize": 40, "labelPadding": 14,
    "title": "(Ecal-Egen)/Egen", "titleFont": "DejaVu Serif", "titleFontSize": 45, "titleAnchor": "end", "titlePadding": 22}},
  "y": {"field": "n", "type": "quantitative", "scale": {"domain": [0, 2916], "nice": false},
   "axis": {"orient": "left", "values": [0,200,400,600,800,1000,1200,1400,1600,1800,2000,2200,2400,2600,2800],
    "labelExpr": "datum.value % 1000 == 0 ? format(datum.value,'d') : ''",
    "encode": {"ticks": {"update": {"x2": {"signal": "datum.value % 1000 == 0 ? 36 : 18"}, "strokeWidth": {"value": 2}}}},
    "labelFont": "DejaVu Serif", "labelFontSize": 38, "labelPadding": 9, "title": null}}
 }},
{"data": {"name": "fit"},
 "mark": {"type": "line", "interpolate": "monotone", "color": "black", "strokeWidth": 5},
 "encoding": {
  "x": {"field": "x", "type": "quantitative", "scale": {"domain": [-0.2, 0.05], "nice": false, "zero": false},
   "axis": {"orient": "top", "values": [-0.2,-0.19,-0.18,-0.17,-0.16,-0.15,-0.14,-0.13,-0.12,-0.11,-0.1,-0.09,-0.08,-0.07,-0.06,-0.05,-0.04,-0.03,-0.02,-0.01,0,0.01,0.02,0.03,0.04,0.05],
    "labels": false, "title": null,
    "encode": {"ticks": {"update": {"y2": {"signal": "abs(datum.value*20-round(datum.value*20))<0.001 ? 25 : 12"}, "strokeWidth": {"value": 2}}}}}},
  "y": {"field": "f", "type": "quantitative", "scale": {"domain": [0, 2916], "nice": false},
   "axis": {"orient": "right", "values": [0,200,400,600,800,1000,1200,1400,1600,1800,2000,2200,2400,2600,2800],
    "labels": false, "title": null,
    "encode": {"ticks": {"update": {"x2": {"signal": "datum.value % 1000 == 0 ? -36 : -17"}, "strokeWidth": {"value": 2}}}}}}
 }},
{"data": {"values": [{}]},
 "mark": {"type": "text", "text": "σ= 1.4 %", "font": "Liberation Serif", "fontSize": 78, "align": "right", "baseline": "alphabetic", "color": "black"},
 "encoding": {"x": {"datum": 0.0456, "type": "quantitative", "axis": null}, "y": {"datum": 2355, "type": "quantitative", "axis": null}}}
]
},
{
"vconcat": [
{"width": 953, "height": 16, "data": {"values": [{}]}, "mark": {"type": "text", "text": ""}, "view": {"stroke": null}},
{
"width": 953, "height": 769,
"view": {"stroke": "black", "strokeWidth": 2},
"resolve": {"axis": {"x": "independent", "y": "independent"}},
"layer": [
{"data": {"name": "cells"},
 "mark": {"type": "rect", "color": "black", "binSpacing": 0},
 "encoding": {
  "x": {"field": "e", "type": "quantitative", "bin": {"binned": true, "step": 0.1}, "scale": {"domain": [0, 3], "nice": false, "zero": false},
   "axis": {"orient": "top", "values": [0,0.2,0.4,0.6,0.8,1,1.2,1.4,1.6,1.8,2,2.2,2.4,2.6,2.8,3], "labels": false, "title": null,
    "encode": {"ticks": {"update": {"y2": {"signal": "abs(datum.value-round(datum.value))<0.001 ? 24 : 12"}, "strokeWidth": {"value": 2}}}}}},
  "y": {"field": "r", "type": "quantitative", "bin": {"binned": true, "step": 0.005}, "scale": {"domain": [-0.15, 0], "nice": false, "zero": false},
   "axis": {"orient": "right", "values": [-0.15,-0.14,-0.13,-0.12,-0.11,-0.1,-0.09,-0.08,-0.07,-0.06,-0.05,-0.04,-0.03,-0.02,-0.01,0], "labels": false, "title": null,
    "encode": {"ticks": {"update": {"x2": {"signal": "abs(datum.value*20-round(datum.value*20))<0.001 ? -28 : -15"}, "strokeWidth": {"value": 2}}}}}},
  "opacity": {"field": "d", "type": "quantitative", "scale": {"domain": [0, 100], "range": [0, 1]}, "legend": null}
 }},
{"data": {"name": "fine"},
 "mark": {"type": "rect", "color": "black", "binSpacing": 0},
 "encoding": {
  "x": {"field": "e", "type": "quantitative", "bin": {"binned": true, "step": 0.05}, "scale": {"domain": [0, 3], "nice": false, "zero": false}, "axis": null},
  "y": {"field": "r", "type": "quantitative", "bin": {"binned": true, "step": 0.0025}, "scale": {"domain": [-0.15, 0], "nice": false, "zero": false}, "axis": null},
  "opacity": {"field": "d", "type": "quantitative", "scale": {"domain": [0, 100], "range": [0, 1]}, "legend": null}
 }},
{"data": {"name": "pts"},
 "mark": {"type": "square", "size": 6, "color": "black", "opacity": 1, "filled": true},
 "encoding": {
  "x": {"field": "e", "type": "quantitative", "scale": {"domain": [0, 3], "nice": false, "zero": false},
   "axis": {"orient": "bottom", "values": [0,0.2,0.4,0.6,0.8,1,1.2,1.4,1.6,1.8,2,2.2,2.4,2.6,2.8,3],
    "labelExpr": "abs(datum.value-round(datum.value))<0.001 ? format(datum.value,'d') : ''",
    "encode": {"ticks": {"update": {"y2": {"signal": "abs(datum.value-round(datum.value))<0.001 ? -24 : -13"}, "strokeWidth": {"value": 2}}}},
    "labelFont": "DejaVu Serif", "labelFontSize": 35, "labelPadding": 16,
    "title": "Egen (GeV)", "titleFont": "DejaVu Serif", "titleFontSize": 44, "titleAnchor": "end", "titlePadding": 16}},
  "y": {"field": "r", "type": "quantitative", "scale": {"domain": [-0.15, 0], "nice": false, "zero": false},
   "axis": {"orient": "left", "values": [-0.15,-0.14,-0.13,-0.12,-0.11,-0.1,-0.09,-0.08,-0.07,-0.06,-0.05,-0.04,-0.03,-0.02,-0.01,0],
    "labelExpr": "abs(datum.value*20-round(datum.value*20))<0.001 ? replace(format(datum.value,'~g'),'−','-') : ''",
    "encode": {"ticks": {"update": {"x2": {"signal": "abs(datum.value*20-round(datum.value*20))<0.001 ? 28 : 15"}, "strokeWidth": {"value": 2}}}},
    "labelFont": "DejaVu Serif", "labelFontSize": 35, "labelPadding": 7,
    "title": "(Ecal-Egen)/Egen", "titleFont": "DejaVu Serif", "titleFontSize": 43, "titleX": -106, "titleY": -2, "titleAlign": "right", "titleBaseline": "middle", "titleAngle": -90}}
 }}
]
}
],
"spacing": 0,
"bounds": "flush"
}
],
"spacing": 199,
"bounds": "flush"
}
